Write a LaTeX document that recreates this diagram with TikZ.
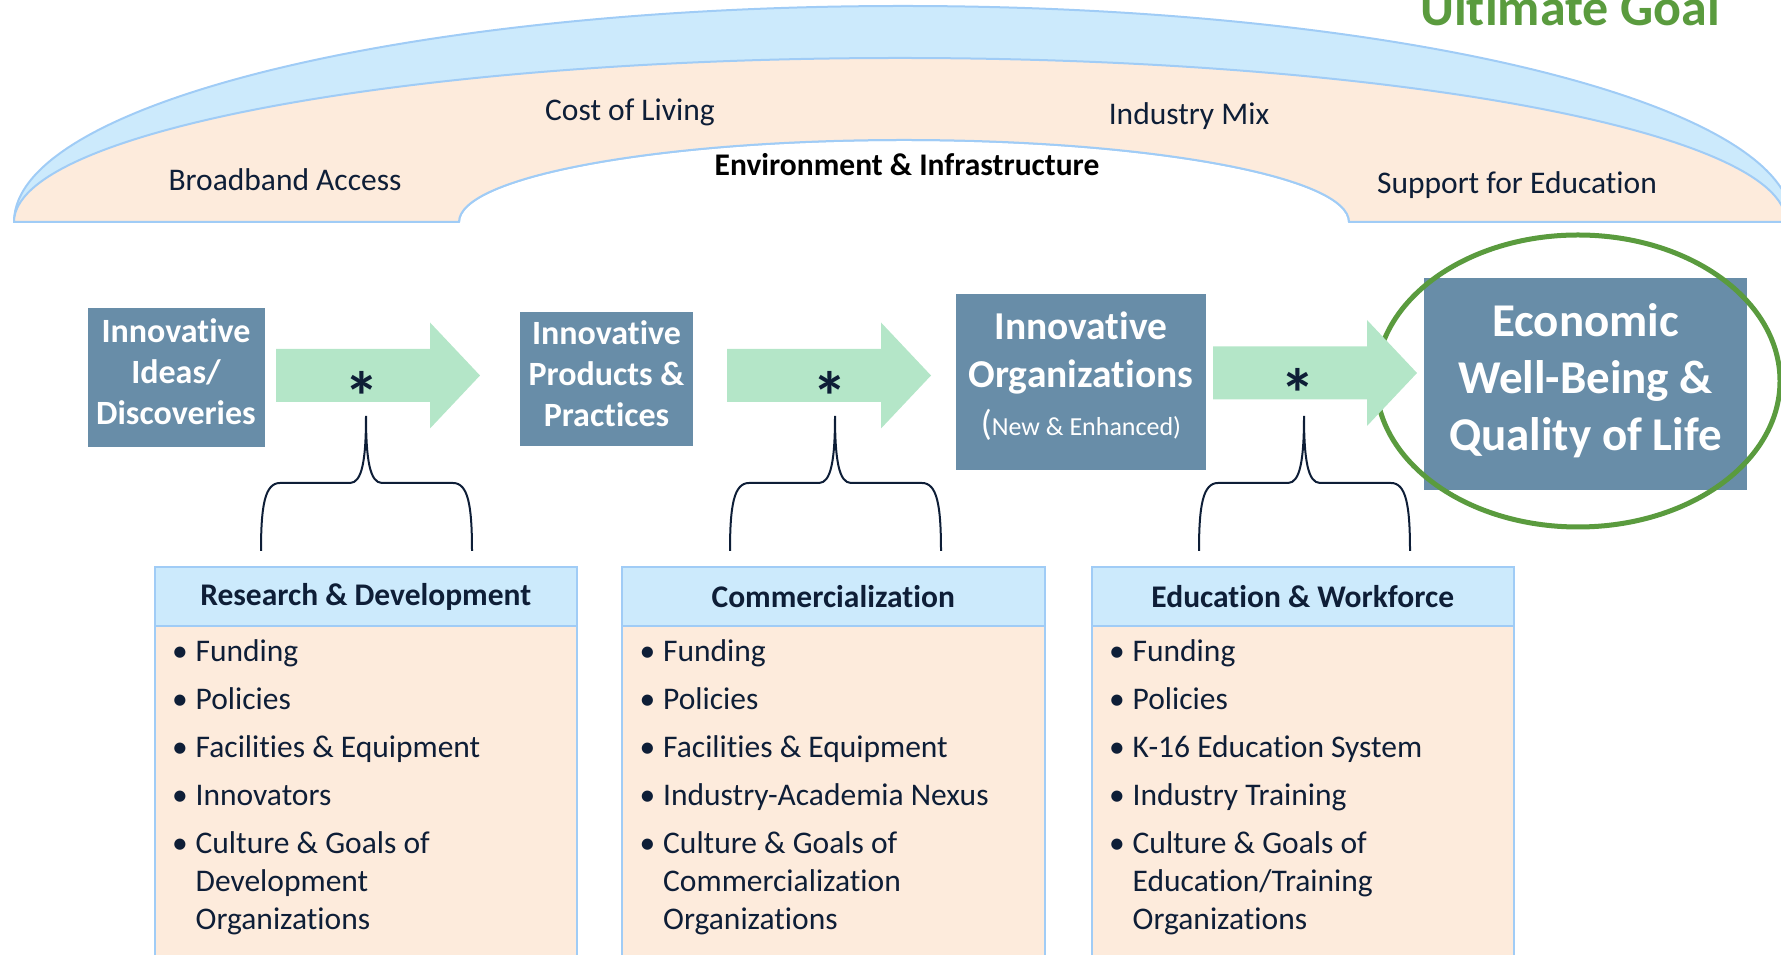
\documentclass[tikz,border=0pt]{standalone}
\usepackage{fontspec}
\setmainfont{Carlito}[Ligatures=CommonOff]
\definecolor{slate}{RGB}{104,141,168}
\definecolor{sky}{RGB}{204,234,252}
\definecolor{rim}{RGB}{160,204,246}
\definecolor{sand}{RGB}{253,235,220}
\definecolor{mint}{RGB}{180,230,200}
\definecolor{ink}{RGB}{14,30,55}
\definecolor{leaf}{RGB}{90,155,62}
\tikzstyle{band} = [draw=rim, line width=2pt, line join=round]
\tikzstyle{tag} = [text=ink, inner sep=0pt, font={\fontsize{31.5}{38}\selectfont}]
\tikzstyle{stage} = [fill=slate, inner sep=0pt]
\tikzstyle{stagetext} = [text=white, align=center, inner sep=0pt, font={\bfseries\fontsize{34}{41}\selectfont}]
\tikzstyle{flow} = [fill=mint]
\tikzstyle{glyph} = [text=ink, inner sep=0pt, anchor=base, font={\bfseries\fontsize{70}{70}\selectfont}]
\tikzstyle{curly} = [draw=ink, line width=2pt]
\tikzstyle{colhead} = [draw=rim, line width=2pt, fill=sky, text=ink, inner sep=0pt, minimum width=422.5pt, minimum height=59pt, font={\bfseries\fontsize{31.5}{38}\selectfont}]
\tikzstyle{colbody} = [draw=rim, line width=2pt, fill=sand]
\tikzstyle{list} = [text=ink, anchor=base west, inner sep=0pt, font={\fontsize{31.5}{38}\selectfont}]
\newcommand{\bul}{\textbullet&}

\begin{document}
\begin{tikzpicture}[x=1pt, y=1pt]
  \useasboundingbox (0,0) rectangle (1781,955);
  \clip (0,0) rectangle (1781,955);
  % arch
  \filldraw[band, fill=sky] (14,733) arc[start angle=180, end angle=0, x radius=889, y radius=216]
    -- (1349,733) arc[start angle=0, end angle=180, x radius=445, y radius=82] -- cycle;
  \filldraw[band, fill=sand] (14,733) arc[start angle=180, end angle=0, x radius=886, y radius=164]
    -- (1349,733) arc[start angle=0, end angle=180, x radius=445, y radius=82] -- cycle;
  \node[tag](cost) at (630,842.5){Cost of Living};
  \node[tag](mix) at (1189,838.5){Industry Mix};
  \node[tag](broad) at (285,775){Broadband Access};
  \node[tag](support) at (1517,769.5){Support for Education};
  \node[tag, text=black, font={\bfseries\fontsize{31.5}{38}\selectfont}](env) at (907,790){Environment \& Infrastructure};
  \node[tag, text=leaf, anchor=base west, font={\bfseries\fontsize{52}{60}\selectfont}](ultimate) at (1420,929){Ultimate Goal};
  % stages
  \node[stage, minimum width=177pt, minimum height=139pt](ideas) at (176,577){};
  \node[stagetext] at ([yshift=6pt]ideas.center){Innovative\\Ideas/\\Discoveries};
  \node[stage, minimum width=173pt, minimum height=134pt](products) at (606.5,576){};
  \node[stagetext] at ([yshift=5pt]products.center){Innovative\\Products \&\\Practices};
  \node[stage, minimum width=250pt, minimum height=176pt](orgs) at (1081,573){};
  \node[stagetext, font={\bfseries\fontsize{39.5}{48}\selectfont}] at ([yshift=6pt]orgs.center)
    {Innovative\\Organizations\\{\mdseries\fontsize{26}{30}\selectfont{\fontsize{36}{30}\selectfont(}New \& Enhanced)}};
  \node[stage, minimum width=323pt, minimum height=212pt](goal) at (1585.5,571){};
  \node[stagetext, font={\bfseries\fontsize{47}{57}\selectfont}] at ([yshift=3pt]goal.center)
    {Economic\\Well-Being \&\\Quality of Life};
  \draw[leaf, line width=5pt] (1578,574) ellipse[x radius=202, y radius=146];
  % arrows and braces
  \foreach \ax/\ay/\sx/\bx in {276/579.5/362/366, 727/579.5/830/835, 1213/582/1298/1304}{
    \fill[flow] (\ax,\ay-26.5) -- (\ax+154,\ay-26.5) -- (\ax+154,\ay-53) -- (\ax+204,\ay)
      -- (\ax+154,\ay+53) -- (\ax+154,\ay+26.5) -- (\ax,\ay+26.5) -- cycle;
    \node[glyph] at (\sx,\ay-46){*};
    \draw[curly] (\bx-105,404) .. controls (\bx-105,450) and (\bx-101,472) .. (\bx-86,472)
      -- (\bx-16,472) .. controls (\bx-4,472) and (\bx,495) .. (\bx,539)
      .. controls (\bx,495) and (\bx+4,472) .. (\bx+16,472)
      -- (\bx+87,472) .. controls (\bx+102,472) and (\bx+106,450) .. (\bx+106,404);
  }
  % columns
  \draw[colbody] (154.5,329) rectangle (577,-20);
  \node[colhead](rdhead) at (365.75,358.5){Research \& Development};
  \node[list](rdlist) at (172,293){\begin{tabular}[t]{@{}p{23.5pt}@{}l@{}}
    \bul Funding\\[10pt] \bul Policies\\[10pt] \bul Facilities \& Equipment\\[10pt] \bul Innovators\\[10pt]
    \bul Culture \& Goals of\\ & Development\\ & Organizations\end{tabular}};
  \draw[colbody] (622,329) rectangle (1044.5,-20);
  \node[colhead](comhead) at (833.25,358.5){Commercialization};
  \node[list](comlist) at (639.5,293){\begin{tabular}[t]{@{}p{23.5pt}@{}l@{}}
    \bul Funding\\[10pt] \bul Policies\\[10pt] \bul Facilities \& Equipment\\[10pt] \bul Industry-Academia Nexus\\[10pt]
    \bul Culture \& Goals of\\ & Commercialization\\ & Organizations\end{tabular}};
  \draw[colbody] (1091.5,329) rectangle (1514,-20);
  \node[colhead](eduhead) at (1302.75,358.5){Education \& Workforce};
  \node[list](edulist) at (1109,293){\begin{tabular}[t]{@{}p{23.5pt}@{}l@{}}
    \bul Funding\\[10pt] \bul Policies\\[10pt] \bul K-16 Education System\\[10pt] \bul Industry Training\\[10pt]
    \bul Culture \& Goals of\\ & Education/Training\\ & Organizations\end{tabular}};
\end{tikzpicture}
\end{document}
